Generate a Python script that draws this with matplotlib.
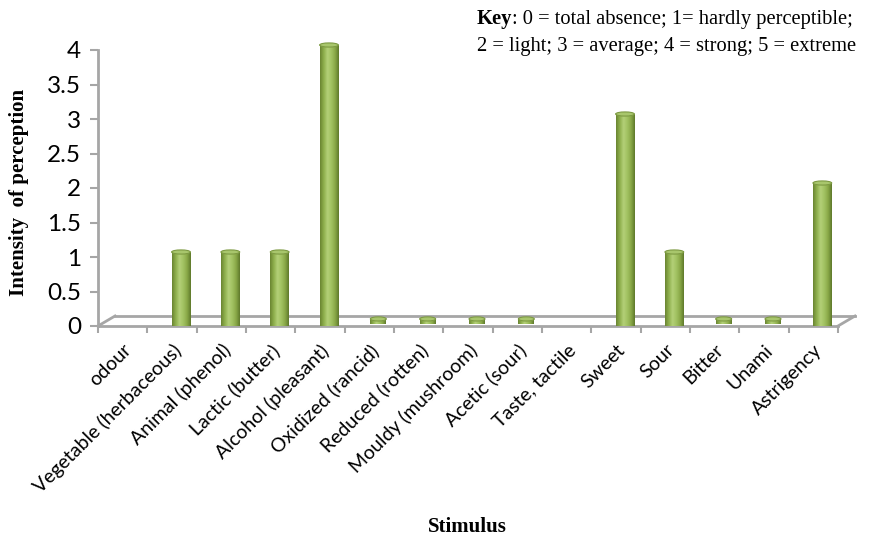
# plot.py
# 刺激强度柱状图（仿 Excel 三维圆柱图）

import numpy as np
import matplotlib
matplotlib.use('Agg')
import matplotlib.pyplot as plt
import matplotlib.transforms as mtransforms
from matplotlib.colors import LinearSegmentedColormap
from matplotlib.patches import Ellipse

# -----------------数据
stimuli = ['odour', 'Vegetable (herbaceous)', 'Animal (phenol)', 'Lactic (butter)',
           'Alcohol (pleasant)', 'Oxidized (rancid)', 'Reduced (rotten)',
           'Mouldy (mushroom)', 'Acetic (sour)', 'Taste, tactile', 'Sweet', 'Sour',
           'Bitter', 'Unami', 'Astrigency']
intensity = [None, 1, 1, 1, 4, 0, 0, 0, 0, None, 3, 1, 0, 0, 2]  # None = 分组标题，无柱
yticks = [0, 0.5, 1, 1.5, 2, 2.5, 3, 3.5, 4]

# -----------------样式
GRAY = '#a6a6a6'
cyl = LinearSegmentedColormap.from_list(
    'cyl', ['#6a8532', '#8fb04d', '#b3d078', '#a2c262', '#8aa948', '#5f7a2c'])

fig = plt.figure(figsize=(8.71, 5.37), dpi=100)
ax = fig.add_axes([98 / 871, 1 - 326 / 537, 740 / 871, 276 / 537])
n = len(stimuli)
ax.set_xlim(0, n)
ax.set_ylim(0, 4)

# 三维底板（背面线和两侧斜线）
back = mtransforms.offset_copy(ax.transData, fig=fig, x=17, y=10, units='dots')
ax.plot([0, n], [0, 0], color=GRAY, lw=2, transform=back, clip_on=False)
for x0 in (0, n):
    tr_a = ax.transData.transform((x0, 0))
    tr_b = back.transform((x0, 0))
    fig.lines.append(plt.Line2D([tr_a[0] / 871, tr_b[0] / 871],
                                [tr_a[1] / 537, tr_b[1] / 537],
                                color=GRAY, lw=2, transform=fig.transFigure))

# 圆柱体
mid = mtransforms.offset_copy(ax.transData, fig=fig, x=9, y=5, units='dots')
bw = 0.38
grad = np.linspace(0, 1, 64).reshape(1, -1)
for i, v in enumerate(intensity):
    if v is None:
        continue
    xc = i + 0.5
    if v > 0:
        h, y0, bwi = v, -0.07, bw
    else:
        h, y0, bwi = 0.03, -0.04, bw * 0.85
    ax.imshow(grad, cmap=cyl, aspect='auto', transform=mid, zorder=3,
              extent=[xc - bwi / 2, xc + bwi / 2, y0, h], interpolation='bilinear',
              clip_on=False)
    ax.add_patch(Ellipse((xc, h), bwi, 0.06, transform=mid, facecolor='#a8c66c',
                         edgecolor='#7d9a42', lw=0.8, zorder=4, clip_on=False))
ax.set_xlim(0, n)
ax.set_ylim(0, 4)

# 坐标轴
for s in ('top', 'right'):
    ax.spines[s].set_visible(False)
for s in ('left', 'bottom'):
    ax.spines[s].set_color(GRAY)
    ax.spines[s].set_linewidth(2)
ax.set_xticks(np.arange(n + 1))
ax.set_xticklabels([])
ax.set_xticks(np.arange(n) + 0.5, minor=True)
ax.set_xticklabels(stimuli, minor=True, rotation=45, ha='right',
                   rotation_mode='anchor', family='Lato', fontsize=14)
ax.tick_params(axis='x', which='major', length=5, width=1.5, color=GRAY, direction='out')
ax.tick_params(axis='x', which='minor', length=0, pad=11)
ax.set_yticks(yticks)
ax.set_yticklabels([('%g' % t) for t in yticks], family='Lato', fontsize=17.5)
ax.tick_params(axis='y', length=6, width=1.5, color=GRAY, pad=6)

fig.text(19 / 871, 1 - 192 / 537, 'Intensity  of perception', family='Liberation Serif',
         fontweight='bold', fontsize=15, rotation=90, ha='center', va='center')
fig.text(467 / 871, 1 - 532 / 537, 'Stimulus', family='Liberation Serif',
         fontweight='bold', fontsize=15, ha='center', va='baseline')

# 图例说明
k = fig.text(477 / 871, 1 - 24 / 537, 'Key', family='Liberation Serif',
             fontweight='bold', fontsize=14.8, va='baseline')
ax.annotate(': 0 = total absence; 1= hardly perceptible;', xy=(1, 0),
            xycoords=k, va='bottom', family='Liberation Serif', fontsize=14.8,
            annotation_clip=False)
fig.text(477 / 871, 1 - 51 / 537, '2 = light; 3 = average; 4 = strong; 5 = extreme',
         family='Liberation Serif', fontsize=14.8, va='baseline')

fig.savefig('out.png', dpi=100)
